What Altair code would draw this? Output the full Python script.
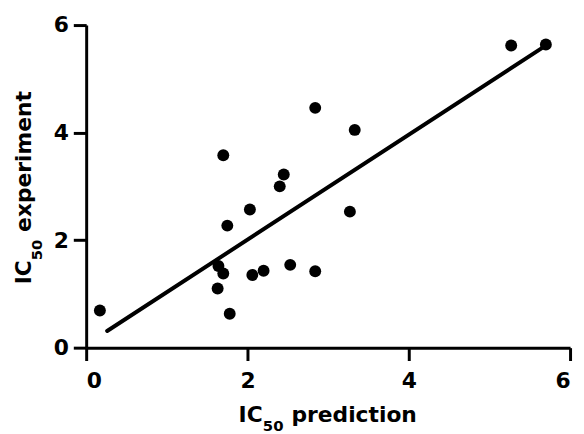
import altair as alt
import pandas as pd

# Scatter data
pred = [0.17, 1.70, 1.75, 2.03, 2.40, 2.45, 2.84, 3.33, 3.27, 1.64,
        1.70, 1.63, 1.78, 2.06, 2.20, 2.53, 2.84, 5.27, 5.70]
expt = [0.69, 3.58, 2.27, 2.57, 3.00, 3.22, 4.46, 4.05, 2.53, 1.52,
        1.38, 1.10, 0.63, 1.35, 1.43, 1.54, 1.42, 5.62, 5.64]

# Regression line endpoints
fit_x = [0.26, 5.65]
fit_y = [0.31, 5.57]

ticks = [0, 2, 4, 6]

# Axis title pieces (main text, subscript, rest)
x_title_parts = ["IC", "50", "prediction"]
y_title_parts = ["IC", "50", "experiment"]

FONT = "DejaVu Sans"

pts = pd.DataFrame({"x": pred, "y": expt})
fit = pd.DataFrame({"x": fit_x, "y": fit_y})

xs = alt.Scale(domain=[0, 6], nice=False, zero=False)
ys = alt.Scale(domain=[0, 6], nice=False, zero=False)

xax = alt.Axis(values=ticks, title="", labelPadding=10)
yax = alt.Axis(values=ticks, title="", labelPadding=5)

line = alt.Chart(fit).mark_line(color="black", strokeWidth=4, strokeCap="round").encode(
    x=alt.X("x:Q", scale=xs, axis=xax),
    y=alt.Y("y:Q", scale=ys, axis=yax),
)

points = alt.Chart(pts).mark_circle(color="black", opacity=1, size=145).encode(
    x=alt.X("x:Q", scale=xs, axis=xax),
    y=alt.Y("y:Q", scale=ys, axis=yax),
)


def label(text, size, xpx, ypx, angle=0):
    df = pd.DataFrame({"t": [text]})
    kw = dict(font=FONT, fontWeight="bold", fontSize=size, color="black",
              align="left", baseline="alphabetic")
    if angle:
        kw["angle"] = angle
    return alt.Chart(df).mark_text(**kw).encode(
        text="t:N", x=alt.value(xpx), y=alt.value(ypx)
    )


# x title (positions in plot-area pixels)
xt = (label(x_title_parts[0], 22, 154, 401)
      + label(x_title_parts[1], 15, 178.5, 410.5)
      + label(x_title_parts[2], 22, 207.5, 401))

# y title, rotated
yt = (label(y_title_parts[0], 22, -55.3, 262, 270)
      + label(y_title_parts[1], 15, -45, 237.7, 270)
      + label(y_title_parts[2], 22, -55.3, 209, 270))

chart = (line + points + xt + yt).properties(
    width=489,
    height=326,
    autosize=alt.AutoSizeParams(type="none"),
    padding={"left": 79, "top": 15, "right": 6, "bottom": 85},
).configure_view(stroke=None).configure_axis(
    grid=False,
    domainColor="black",
    domainWidth=3,
    tickColor="black",
    tickWidth=3,
    tickSize=13,
    labelFont=FONT,
    labelFontWeight="bold",
    labelFontSize=22,
    labelColor="black",
).configure_axisX(labelAngle=0)

chart.save("out.html", embed_options={"renderer": "svg", "actions": False})
